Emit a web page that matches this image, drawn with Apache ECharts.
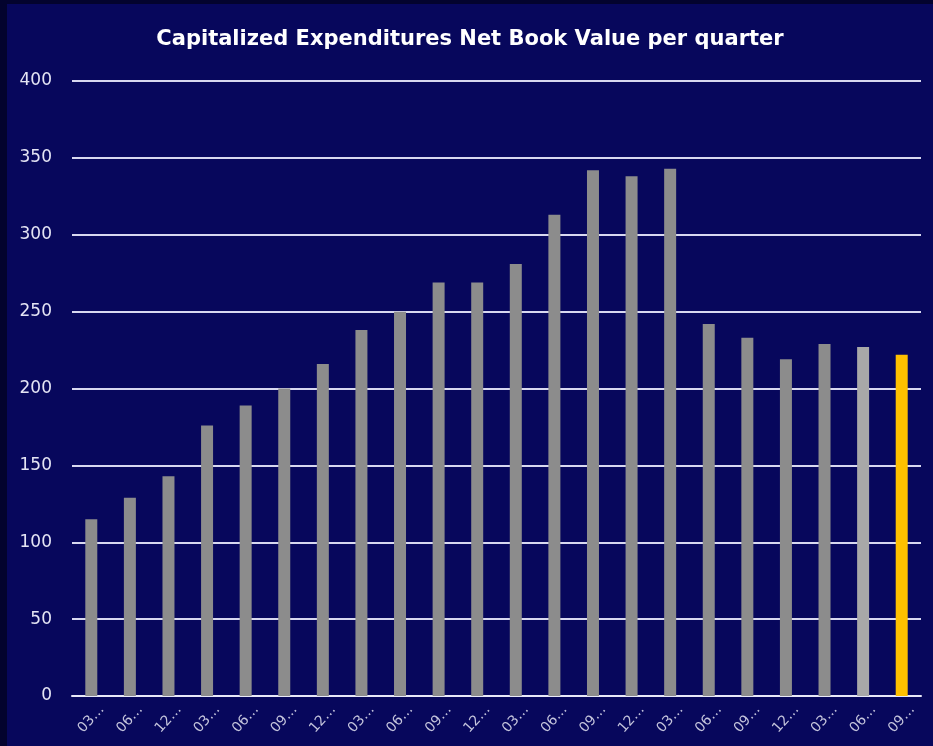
<!DOCTYPE html>
<html>
<head>
<meta charset="utf-8">
<script src="https://cdn.jsdelivr.net/npm/echarts@6/dist/echarts.min.js"></script>
<style>
  html, body { margin: 0; padding: 0; background: #03032e; }
  #chart { position: absolute; left: 7px; top: 4px; width: 926px; height: 742px; background: #07075c; }
</style>
</head>
<body>
<div id="chart"></div>
<script>
// quarter labels as they show on the axis (truncated)
const quarters = ['03…', '06…', '12…', '03…', '06…', '09…', '12…', '03…', '06…', '09…', '12…',
  '03…', '06…', '09…', '12…', '03…', '06…', '09…', '12…', '03…', '06…', '09…']
const netBookValue = [115, 129, 143, 176, 189, 200, 216, 238, 250, 269, 269,
  281, 313, 342, 338, 343, 242, 233, 219, 229, 227, 222]
const yTicks = [0, 50, 100, 150, 200, 250, 300, 350, 400]

const chart = echarts.init(document.getElementById('chart'))

const barData = netBookValue.map(function(v, i) {
  let color = '#8c8c8c'
  if (i === netBookValue.length - 2) color = '#a8a8a8'
  if (i === netBookValue.length - 1) color = '#ffc000'
  return { value: v, itemStyle: { color: color } }
})

chart.setOption({
  backgroundColor: '#07075c',
  title: {
    text: 'Capitalized Expenditures Net Book Value per quarter',
    left: 'center',
    top: 20,
    textStyle: {
      color: '#ffffff',
      fontFamily: 'DejaVu Sans',
      fontWeight: 'bold',
      fontSize: 21
    }
  },
  grid: {
    left: 65,
    right: 12,
    top: 77,
    bottom: 50
  },
  xAxis: {
    type: 'category',
    data: quarters,
    axisLine: { lineStyle: { color: '#e8e8f8', width: 2 } },
    axisTick: { show: false },
    axisLabel: {
      color: '#c4c4dc',
      fontSize: 14,
      fontFamily: 'DejaVu Sans',
      rotate: 48,
      align: 'center',
      verticalAlign: 'middle',
      margin: 23,
      interval: 0
    }
  },
  yAxis: {
    type: 'value',
    min: yTicks[0],
    max: yTicks[yTicks.length - 1],
    interval: 50,
    axisLine: { show: false },
    axisTick: { show: false },
    axisLabel: {
      color: '#e4e4f4',
      fontSize: 17,
      fontFamily: 'DejaVu Sans',
      margin: 20
    },
    splitLine: { lineStyle: { color: '#d8d8f0', width: 2 } }
  },
  series: [
    {
      type: 'bar',
      data: barData,
      barWidth: 12
    }
  ]
})
</script>
</body>
</html>
